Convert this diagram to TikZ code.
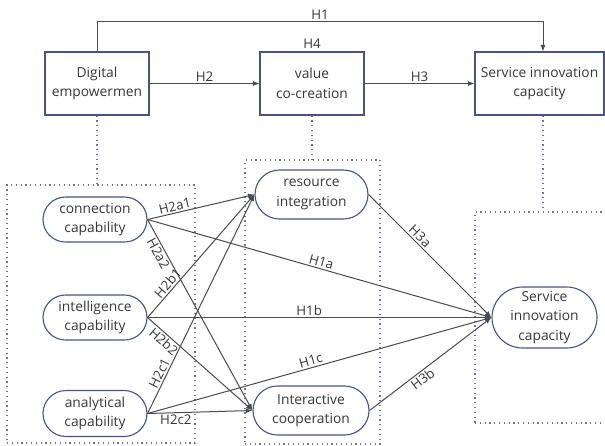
\documentclass[tikz,border=0pt]{standalone}
\usepackage{fontspec}
\setmainfont{Open Sans}
\usetikzlibrary{arrows.meta,shapes.misc,positioning}

\definecolor{framec}{HTML}{4A5280}
\definecolor{dotc}{HTML}{6C7199}
\definecolor{linkc}{HTML}{4A4A4A}
\definecolor{txtc}{HTML}{363636}

\begin{document}
\begin{tikzpicture}[x=1pt, y=-1pt, text=txtc, font=\fontsize{13.8}{19.5}\selectfont,
    box/.style = {draw=framec, line width=1.1pt, minimum width=104pt, minimum height=63pt, align=center, inner sep=0pt},
    pill/.style = {draw=framec, line width=1.1pt, rounded rectangle, align=center, inner sep=0pt},
    grp/.style = {draw=dotc, line width=1.2pt, dash pattern=on 1.2pt off 3.6pt},
    arr/.style = {draw=linkc, line width=1pt, -{Latex[length=6.5pt,width=5pt]}},
    lab/.style = {font=\fontsize{13.3}{15}\selectfont, inner sep=1.5pt}]
\useasboundingbox (0,0) rectangle (605,445);

% dotted groups
\node[grp, minimum width=188pt, minimum height=258pt] (gl) at (101,314) {};
\node[grp, minimum width=135pt, minimum height=284pt] (gm) at (312.5,302) {};
\node[grp, minimum width=145pt, minimum height=211pt] (gr) at (547.5,317.5) {};

% top row
\node[box] (dig) at (97,83.5) {Digital\\empowermen};
\node[box] (val) at (312,83.5) {value\\co-creation};
\node[box, minimum width=129pt] (sic) at (539.5,83.5) {Service innovation\\capacity};
\node[lab, above=1pt of val] (h4) {H4};

% dimensions
\node[pill, minimum width=104pt, minimum height=45pt] (con) at (95,219.5) {connection\\capability};
\node[pill, minimum width=104pt, minimum height=45pt] (itl) at (95,317.5) {intelligence\\capability};
\node[pill, minimum width=104pt, minimum height=46pt] (ana) at (95,413.5) {analytical\\capability};
\node[pill, minimum width=113pt, minimum height=49pt] (res) at (311.5,194.5) {resource\\integration};
\node[pill, minimum width=116pt, minimum height=49pt] (coo) at (311,410.5) {Interactive\\cooperation};
\node[pill, minimum width=105pt, minimum height=61pt] (svi) at (544.5,317.5) {Service\\innovation\\capacity};

% dotted links
\draw[grp] (dig.south) -- (dig.south |- gl.north);
\draw[grp] (val.south) -- (val.south |- gm.north);
\draw[grp] ([xshift=3.5pt]sic.south) -- ([xshift=3.5pt]sic.south |- gr.north);

% top paths
\draw[arr] (dig) -- node[lab, above] {H2} (val);
\draw[arr] (val) -- node[lab, above] {H3} (sic);
\draw[arr] (dig.north) -- ++(0,-29.5) -| node[lab, pos=0.25, above] {H1} ([xshift=3.5pt]sic.north);

% lower paths
\draw[arr] (con.east) -- node[lab, pos=0.27, sloped, above] {H2a1} (res.west);
\draw[arr] (con.east) -- node[lab, pos=0.16, sloped, below] {H2a2} (coo.west);
\draw[arr] (con.east) -- node[lab, pos=0.5, sloped, above] {H1a} (svi.west);
\draw[arr] (itl.east) -- node[lab, pos=0.24, sloped, above] {H2b1} (res.west);
\draw[arr] (itl.east) -- node[lab, pos=0.2, sloped, below] {H2b2} (coo.west);
\draw[arr] (itl.east) -- node[lab, pos=0.47, sloped, above] {H1b} (svi.west);
\draw[arr] (ana.east) -- node[lab, pos=0.17, sloped, above] {H2c1} (res.west);
\draw[arr] (ana.east) -- node[lab, pos=0.27, below] {H2c2} (coo.west);
\draw[arr] (ana.east) -- node[lab, pos=0.48, sloped, above] {H1c} (svi.west);
\draw[arr] (res.east) -- node[lab, pos=0.38, sloped, above] {H3a} (svi.west);
\draw[arr] (coo.east) -- node[lab, pos=0.4, sloped, below] {H3b} (svi.west);
\end{tikzpicture}
\end{document}
